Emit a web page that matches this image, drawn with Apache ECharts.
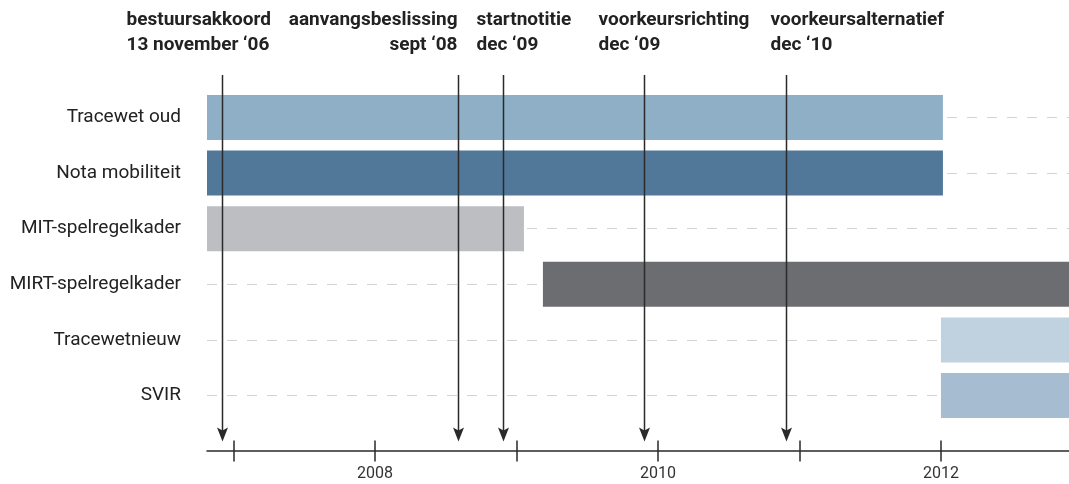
<!DOCTYPE html>
<html>
<head>
<meta charset="utf-8">
<style>
  html, body { margin: 0; padding: 0; background: #fff; }
  #main { width: 1069px; height: 484px; }
</style>
<script src="https://cdn.jsdelivr.net/npm/echarts@6/dist/echarts.min.js"></script>
</head>
<body>
<div id="main"></div>
<script>
// rows of the timeline, top to bottom
const rows = ['Tracewet oud', 'Nota mobiliteit', 'MIT-spelregelkader', 'MIRT-spelregelkader', 'Tracewetnieuw', 'SVIR']
const barStart = [2006.5, 2006.5, 2006.5, 2009.187, 2012.0, 2012.0]
const barEnd = [2012.014, 2012.014, 2009.053, 2013.5, 2013.5, 2013.5]

// milestones (arrows)
const eventNames = ['bestuursakkoord', 'aanvangsbeslissing', 'startnotitie', 'voorkeursrichting', 'voorkeursalternatief']
const eventDates = ['13 november ‘06', 'sept ‘08', 'dec ‘09', 'dec ‘09', 'dec ‘10']
const eventX = [2006.917, 2008.587, 2008.907, 2009.901, 2010.902]

// axis
const axisMin = 2006.813
const axisMax = 2012.905
const tickYears = [2007, 2008, 2009, 2010, 2011, 2012]
const labelYears = [2008, 2010, 2012]

// styling
const barColors = ['#8eafc5', '#517899', '#bdbec2', '#6c6d71', '#c0d2e0', '#a6bdd1']
const labelAlign = ['left', 'right', 'left', 'left', 'left']
const labelShift = [-96, -1, -27, -46, -16]
const ink = '#2a2a2a'

const myChart = echarts.init(document.getElementById('main'))

function renderBar(params, api) {
  const cs = params.coordSys
  const row = api.value(0)
  const y = api.coord([axisMin, row])[1]
  let x0 = api.coord([api.value(1), row])[0]
  let x1 = api.coord([api.value(2), row])[0]
  x0 = Math.max(x0, cs.x)
  x1 = Math.min(x1, cs.x + cs.width)
  const h = api.size([0, 1])[1] * 0.81
  return {
    type: 'rect',
    shape: { x: x0, y: y - h / 2, width: x1 - x0, height: h },
    style: { fill: barColors[params.dataIndex] }
  }
}

function renderArrow(params, api) {
  const cs = params.coordSys
  const i = params.dataIndex
  const px = Math.round(api.coord([api.value(0), 0])[0]) + 0.5
  const top = cs.y - 42.5
  const tip = cs.y + cs.height + 46
  return {
    type: 'group',
    children: [
      {
        type: 'line',
        shape: { x1: px, y1: top, x2: px, y2: tip - 8 },
        style: { stroke: ink, lineWidth: 1.5 }
      },
      {
        type: 'polygon',
        shape: { points: [[px - 5.5, tip - 14], [px, tip - 11], [px + 5.5, tip - 14], [px, tip]] },
        style: { fill: ink }
      },
      {
        type: 'text',
        style: {
          text: eventNames[i] + '\n' + eventDates[i],
          x: px + labelShift[i],
          y: cs.y - 110,
          align: labelAlign[i],
          verticalAlign: 'top',
          font: 'bold 19px Roboto',
          lineHeight: 25,
          fill: '#222'
        }
      }
    ]
  }
}

myChart.setOption({
  animation: false,
  grid: { left: 207, right: 0, top: 117.5, bottom: 88.5 },
  xAxis: [
    {
      type: 'value',
      min: axisMin,
      max: axisMax,
      position: 'bottom',
      offset: 55,
      axisLine: { show: true, onZero: false, lineStyle: { color: ink, width: 1.5 } },
      axisTick: { show: true, customValues: tickYears, length: 11, lineStyle: { color: ink, width: 1.5 } },
      axisLabel: {
        customValues: labelYears,
        formatter: v => String(v),
        fontFamily: 'Roboto',
        fontSize: 16,
        color: '#333',
        margin: 15
      },
      splitLine: { show: false }
    },
    {
      type: 'value',
      min: axisMin,
      max: axisMax,
      position: 'bottom',
      offset: 55,
      axisLine: { show: false },
      axisTick: { show: true, customValues: tickYears, inside: true, length: 10, lineStyle: { color: ink, width: 1.5 } },
      axisLabel: { show: false },
      splitLine: { show: false }
    }
  ],
  yAxis: {
    type: 'category',
    data: rows,
    inverse: true,
    boundaryGap: false,
    axisLine: { show: false },
    axisTick: { show: false },
    axisLabel: { fontFamily: 'Roboto', fontSize: 19, color: '#222', margin: 26 },
    splitLine: { show: true, lineStyle: { type: [10, 10], color: '#d3d3d3', width: 1 } }
  },
  series: [
    {
      type: 'custom',
      renderItem: renderBar,
      encode: { x: [1, 2], y: 0 },
      data: rows.map((r, i) => [i, barStart[i], barEnd[i]]),
      z: 2
    },
    {
      type: 'custom',
      renderItem: renderArrow,
      encode: { x: 0 },
      data: eventX.map(x => [x]),
      z: 3
    }
  ]
})
</script>
</body>
</html>
